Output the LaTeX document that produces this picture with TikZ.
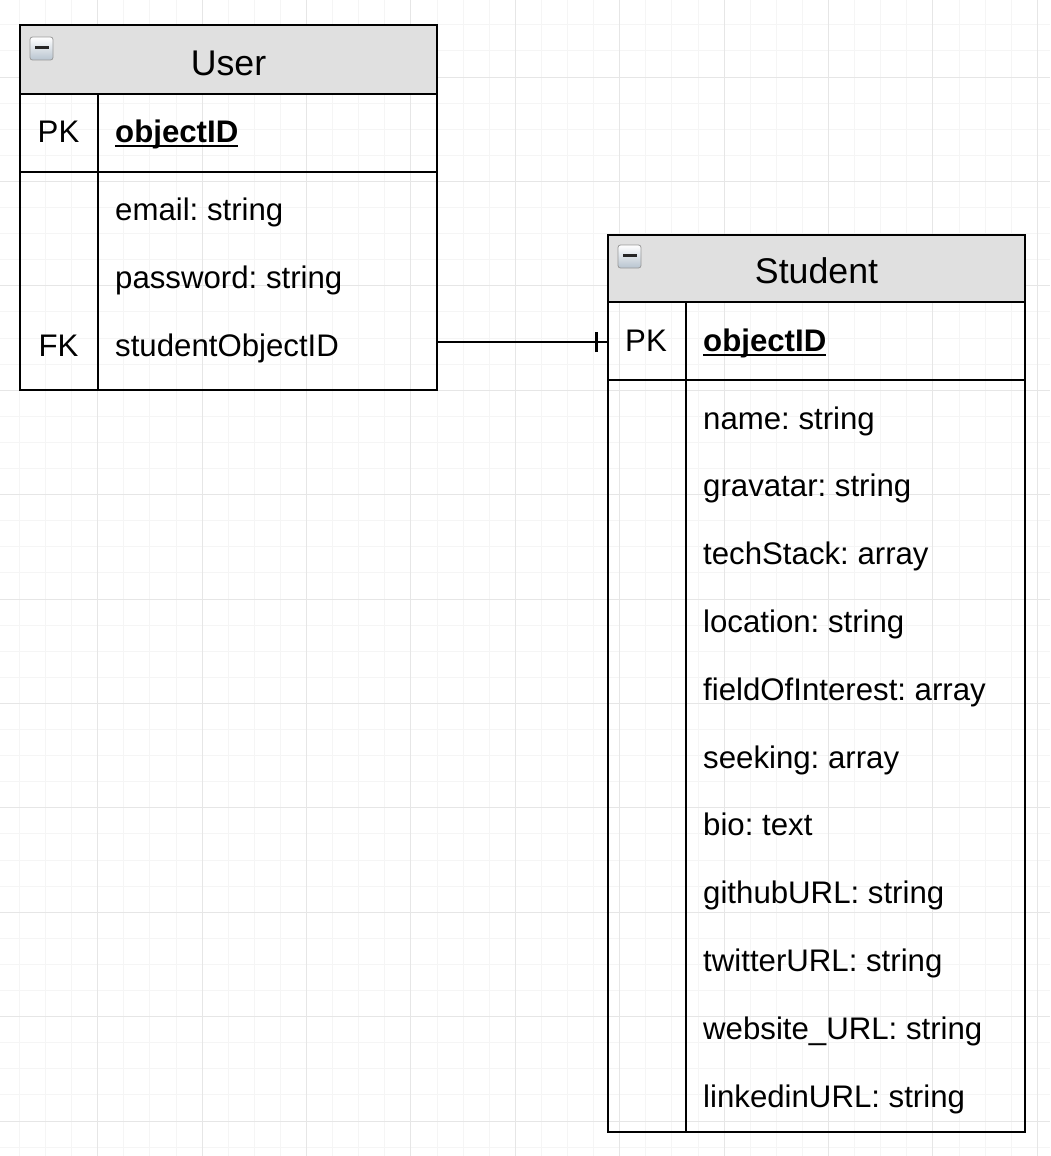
\documentclass[tikz,border=0pt]{standalone}
\usepackage{fontspec}
\setmainfont{Liberation Sans}
\frenchspacing
\definecolor{hdr}{HTML}{E0E0E0}
\definecolor{gmin}{HTML}{F5F5F5}
\definecolor{gmaj}{HTML}{E6E6E6}
\definecolor{iconbot}{HTML}{B8C4D0}
\begin{document}
\frenchspacing
\begin{tikzpicture}[x=1pt,y=-1pt,
  box/.style={line width=2.6pt, draw=black, line cap=rect},
  conn/.style={line width=2.2pt, draw=black},
  rowtext/.style={anchor=base west, inner sep=0pt, font=\fontsize{31.2}{36}\selectfont},
  keytext/.style={anchor=base, inner sep=0pt, font=\fontsize{31.2}{36}\selectfont},
  hdrtext/.style={anchor=base, inner sep=0pt, font=\fontsize{35.7}{42}\selectfont},
  minorline/.style={gmin, line width=1pt},
  majorline/.style={gmaj, line width=1pt},
  iconbox/.style={draw=gray!80, line width=0.8pt, rounded corners=2.5pt, top color=white, bottom color=iconbot},
  iconbar/.style={line width=2.4pt, draw=black!85}
]
\useasboundingbox (0,0) rectangle (1050,1156);
\fill[white] (0,0) rectangle (1050,1156);
% grid
\foreach \k in {0,...,39} {\pgfmathsetmacro\xx{19.4+26.1*\k}\draw[minorline] (\xx,0) -- (\xx,1156);}
\foreach \k in {-1,...,43} {\pgfmathsetmacro\yy{24.8+26.1*\k}\draw[minorline] (0,\yy) -- (1050,\yy);}
\foreach \k in {0,...,9} {\pgfmathsetmacro\xx{97.7+104.4*\k}\draw[majorline] (\xx,0) -- (\xx,1156);}
\foreach \k in {0,...,10} {\pgfmathsetmacro\yy{77+104.4*\k}\draw[majorline] (0,\yy) -- (1050,\yy);}

% ---- User table
\fill[hdr] (20,25) rectangle (437,94);
\draw[box] (20,25) rectangle (437,390);
\draw[box] (20,94) -- (437,94);
\draw[box] (20,172) -- (437,172);
\draw[box] (98,94) -- (98,390);
\shade[iconbox] (30,37) rectangle (53,60);
\draw[iconbar] (35,47.5) -- (48.5,47.5);
\node[hdrtext] (utitle) at (228.5,75) {User};
\node[keytext] (upk) at (58.5,142) {PK};
\node[rowtext] (uid) at (115,142) {\bfseries objectID};
\draw[line width=2pt] ([yshift=-3.5pt]uid.base west) -- ([yshift=-3.5pt]uid.base east);
\node[rowtext] (uemail) at (115,220) {email: string};
\node[rowtext] (upass) at (115,288) {password: string};
\node[keytext] (ufk) at (58.5,356) {FK};
\node[rowtext] (usid) at (115,356) {studentObjectID};

% ---- Student table
\fill[hdr] (608,235) rectangle (1025,302);
\draw[box] (608,235) rectangle (1025,1132);
\draw[box] (608,302) -- (1025,302);
\draw[box] (608,380) -- (1025,380);
\draw[box] (686,302) -- (686,1132);
\shade[iconbox] (618,245) rectangle (641,268);
\draw[iconbar] (623,255.5) -- (636.5,255.5);
\node[hdrtext] (stitle) at (816.5,283) {Student};
\node[keytext] (spk) at (646,351) {PK};
\node[rowtext] (sid) at (703,351) {\bfseries objectID};
\draw[line width=2pt] ([yshift=-3.5pt]sid.base west) -- ([yshift=-3.5pt]sid.base east);
\foreach \t [count=\i from 0] in {name: string, gravatar: string, techStack: array, location: string, fieldOfInterest: array, seeking: array, bio: text, githubURL: string, twitterURL: string, website\_URL: string, linkedinURL: string} {
  \pgfmathsetmacro\yy{429+67.8*\i}
  \node[rowtext] (srow\i) at (703,\yy) {\t};
}

% ---- connector
\coordinate (ua) at (438,342);
\coordinate (sb) at (607,342);
\draw[conn] (ua) -- (sb);
\draw[conn] ([xshift=-10.5pt,yshift=-10pt]sb) -- ([xshift=-10.5pt,yshift=10pt]sb);
\end{tikzpicture}
\end{document}
